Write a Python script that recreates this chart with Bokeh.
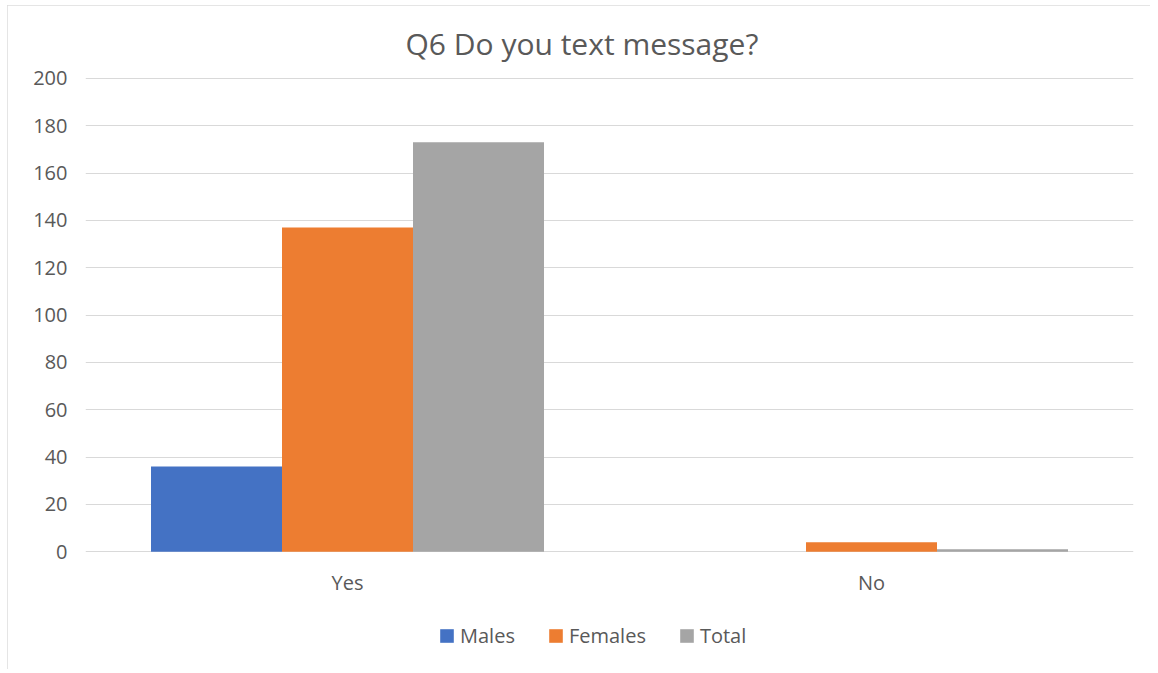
from bokeh.plotting import figure
from bokeh.models import FactorRange, Range1d, FixedTicker, Legend, LegendItem, ColumnDataSource
from bokeh.transform import dodge
from bokeh.core.properties import value
from bokeh.embed import file_html
from bokeh.resources import INLINE

categories = ["Yes", "No"]
males = [36, 0]
females = [137, 4]
total = [173, 1]
series_names = ["Males", "Females", "Total"]
colors = ["#4472C4", "#ED7D31", "#A5A5A5"]
y_ticks = [0, 20, 40, 60, 80, 100, 120, 140, 160, 180, 200]

source = ColumnDataSource(dict(cat=categories, Males=males, Females=females, Total=total))

FONT = "Open Sans"
TXT = "#595959"
SMALL = "20px"

p = figure(width=1143, height=664, x_range=FactorRange(*categories, range_padding=0),
           y_range=Range1d(-48.1, 200.4), output_backend="svg", toolbar_location=None,
           title="Q6 Do you text message?")
p.styles = {"margin-left": "7px", "margin-top": "5px",
            "outline": "1px solid #dcdcdc", "outline-offset": "-1px"}
p.min_border_left = 78
p.min_border_right = 17
p.min_border_top = 72
p.min_border_bottom = 4
p.outline_line_color = None
p.background_fill_color = "white"
p.border_fill_color = "white"

p.title.align = "left"
p.title.offset = 320
p.title.text_font = FONT
p.title.text_font_size = "30px"
p.title.text_font_style = "normal"
p.title.text_color = TXT
p.title.standoff = 28

renderers = []
for i, (name, col) in enumerate(zip(series_names, colors)):
    r = p.vbar(x=dodge("cat", -0.25 + 0.25 * i, range=p.x_range), top=name, width=0.25,
               source=source, fill_color=col, line_color=None)
    renderers.append(r)

# category labels below the baseline
p.text(x=categories, y=[-13.1] * len(categories), text=categories,
       text_align="center", text_baseline="middle", text_font=value(FONT),
       text_font_size=SMALL, text_color=TXT)

p.yaxis.ticker = FixedTicker(ticks=y_ticks)
p.yaxis.axis_line_color = None
p.yaxis.major_tick_line_color = None
p.yaxis.minor_tick_line_color = None
p.yaxis.major_tick_out = 0
p.yaxis.major_label_standoff = 18
p.yaxis.major_label_text_font = FONT
p.yaxis.major_label_text_font_size = SMALL
p.yaxis.major_label_text_color = TXT

p.xaxis.visible = False
p.xgrid.grid_line_color = None
p.ygrid.ticker = FixedTicker(ticks=y_ticks)
p.ygrid.grid_line_color = "#d9d9d9"
p.ygrid.grid_line_width = 1

legend = Legend(items=[LegendItem(label=n, renderers=[r]) for n, r in zip(series_names, renderers)],
                orientation="horizontal", location=(353, 16))
legend.border_line_color = None
legend.background_fill_alpha = 0
legend.label_text_font = FONT
legend.label_text_font_size = SMALL
legend.label_text_color = TXT
legend.glyph_width = 17
legend.glyph_height = 17
legend.label_standoff = 5
legend.spacing = 32
legend.margin = 0
legend.padding = 0
p.add_layout(legend, "center")

open("out.html", "w").write(file_html(p, INLINE))
